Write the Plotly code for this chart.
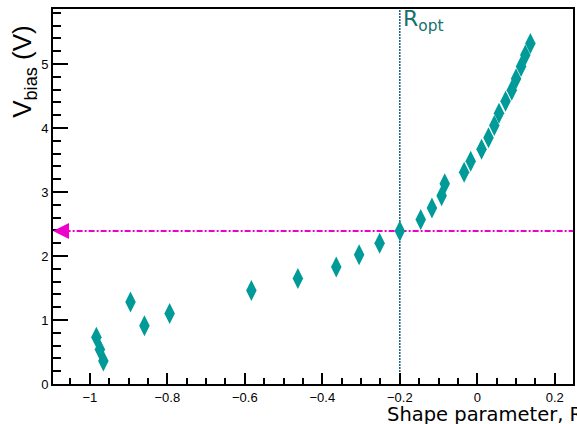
import plotly.graph_objects as go

# Shape parameter R and the bias voltage measured at each value
shape_r = [-0.983, -0.974, -0.965, -0.895, -0.859, -0.794,
           -0.583, -0.463, -0.364, -0.305, -0.252, -0.200,
           -0.146, -0.117, -0.092, -0.084, -0.034, -0.017,
           0.011, 0.029, 0.044, 0.056, 0.073, 0.089,
           0.100, 0.113, 0.124, 0.137]
v_bias = [0.73, 0.54, 0.36, 1.28, 0.91, 1.10,
          1.46, 1.65, 1.83, 2.02, 2.20, 2.39,
          2.57, 2.75, 2.94, 3.13, 3.31, 3.48,
          3.67, 3.85, 4.04, 4.23, 4.42, 4.59,
          4.77, 4.96, 5.14, 5.32]

r_opt = -0.2
v_opt = 2.39

x_range = [-1.095, 0.247]
y_range = [0, 5.86]

x_major = [-1, -0.8, -0.6, -0.4, -0.2, 0, 0.2]
x_labels = ["\u22121", "\u22120.8", "\u22120.6", "\u22120.4", "\u22120.2", "0", "0.2"]
y_major = [0, 1, 2, 3, 4, 5]
y_labels = ["0", "1", "2", "3", "4", "5"]

teal = "#009a99"
magenta = "#ee00cc"
line_blue = "#1b5f7e"
label_teal = "#17706f"

fig = go.Figure()

# horizontal working-point line
fig.add_trace(go.Scatter(
    x=[x_range[0] + 0.03, x_range[1]], y=[v_opt, v_opt], mode="lines",
    line=dict(color=magenta, width=2, dash="6px,2px,2px,2px"),
    hoverinfo="skip", showlegend=False))

# vertical line at the optimal shape parameter
fig.add_trace(go.Scatter(
    x=[r_opt, r_opt], y=y_range, mode="lines",
    line=dict(color=line_blue, width=1.5, dash="2px,1px"),
    hoverinfo="skip", showlegend=False))

fig.add_trace(go.Scatter(
    x=shape_r, y=v_bias, mode="markers",
    marker=dict(symbol="diamond-tall", size=15, color=teal, line=dict(width=0)),
    showlegend=False))

axis_font = dict(family="Liberation Sans, Arial, sans-serif", size=13, color="black")

fig.update_xaxes(
    range=x_range, showgrid=False, zeroline=False,
    showline=True, linecolor="black", linewidth=2, mirror=True,
    tickmode="array", tickvals=x_major, ticktext=x_labels,
    ticks="inside", ticklen=11, tickwidth=1.5, tickcolor="black",
    tickfont=axis_font,
    minor=dict(dtick=0.05, tick0=0, ticks="inside", ticklen=6,
               tickwidth=1.5, tickcolor="black", showgrid=False))
fig.update_yaxes(
    range=y_range, showgrid=False, zeroline=False,
    showline=True, linecolor="black", linewidth=2, mirror=True,
    tickmode="array", tickvals=y_major, ticktext=y_labels,
    ticks="inside", ticklen=15, tickwidth=1.5, tickcolor="black",
    tickfont=axis_font,
    minor=dict(dtick=0.2, tick0=0, ticks="inside", ticklen=8,
               tickwidth=1.5, tickcolor="black", showgrid=False))

annotations = [
    # arrow head pointing at the voltage axis
    dict(x=x_range[0], y=v_opt, xref="x", yref="y", ax=18, ay=0,
         showarrow=True, arrowhead=2, arrowsize=1.6, arrowwidth=2,
         arrowcolor=magenta, text=""),
    dict(x=r_opt, y=1.012, xref="x", yref="paper", xanchor="left", yanchor="top",
         xshift=1, text="R<sub>opt</sub>", showarrow=False,
         font=dict(family="DejaVu Sans", size=22, color=label_teal)),
    dict(x=-0.0556, y=0.962, xref="paper", yref="paper", xanchor="center",
         yanchor="top", textangle=-90, text="V<sub>bias</sub> (V)", showarrow=False,
         font=dict(family="Liberation Sans, Arial, sans-serif", size=26, color="black")),
    dict(x=0.639, y=-0.045, xref="paper", yref="paper", xanchor="left",
         yanchor="top", text="Shape parameter, R", showarrow=False,
         font=dict(family="DejaVu Sans", size=19.5, color="black")),
]

fig.update_layout(
    width=577, height=424,
    margin=dict(l=53, r=2, t=9, b=40),
    paper_bgcolor="white", plot_bgcolor="white",
    annotations=annotations,
)

fig.write_html("out.html")
